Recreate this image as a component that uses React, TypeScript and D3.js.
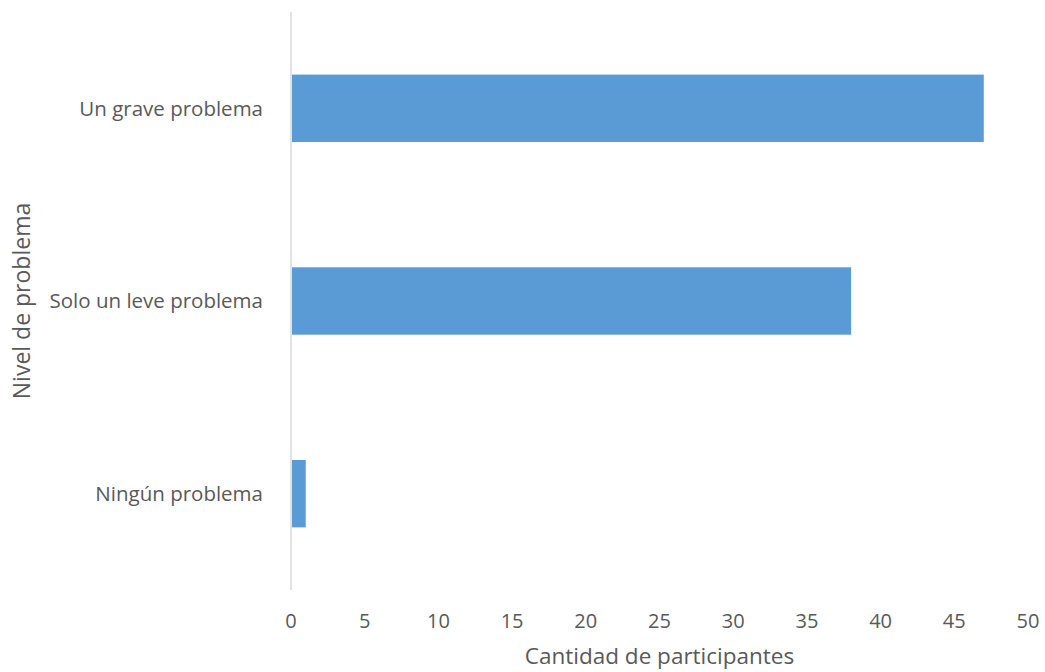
import React from 'react';
import * as d3 from 'd3';

const categories = ['Un grave problema', 'Solo un leve problema', 'Ningún problema'];
const values = [47, 38, 1];
const xTicks = [0, 5, 10, 15, 20, 25, 30, 35, 40, 45, 50];

const width = 1045;
const height = 672;
const margin = { top: 12, right: 17, bottom: 82, left: 291 };

const App = () => {
  const x = d3.scaleLinear().domain([0, 50]).range([margin.left, width - margin.right]);
  const y = d3
    .scaleBand()
    .domain(categories)
    .range([margin.top, height - margin.bottom])
    .paddingInner(0.65)
    .paddingOuter(0.325);

  const font = '"Open Sans", sans-serif';
  const textColor = '#595959';

  return (
    <svg width={width} height={height} style={{ position: 'absolute', left: 0, top: 0, background: '#fff' }}>
      <line
        x1={x(0)}
        x2={x(0)}
        y1={margin.top}
        y2={height - margin.bottom}
        stroke="#d9d9d9"
        strokeWidth={1.5}
      />
      {categories.map((c, i) => (
        <rect
          key={c}
          x={x(0) + 1}
          y={y(c)}
          width={x(values[i]) - x(0) - 1}
          height={y.bandwidth()}
          fill="#5b9bd5"
        />
      ))}
      {categories.map((c) => (
        <text
          key={c}
          x={x(0) - 28}
          y={(y(c) ?? 0) + y.bandwidth() / 2}
          dy="0.35em"
          textAnchor="end"
          fontFamily={font}
          fontSize={20.5}
          fill={textColor}
        >
          {c}
        </text>
      ))}
      {xTicks.map((t) => (
        <text
          key={t}
          x={x(t)}
          y={621}
          dy="0.35em"
          textAnchor="middle"
          fontFamily={font}
          fontSize={20}
          fill={textColor}
        >
          {t}
        </text>
      ))}
      <text
        x={(x(0) + x(50)) / 2}
        y={656}
        dy="0.35em"
        textAnchor="middle"
        fontFamily={font}
        fontSize={22.5}
        fill={textColor}
      >
        Cantidad de participantes
      </text>
      <text
        transform={`translate(22, ${(margin.top + height - margin.bottom) / 2}) rotate(-90)`}
        dy="0.35em"
        textAnchor="middle"
        fontFamily={font}
        fontSize={23}
        fill={textColor}
      >
        Nivel de problema
      </text>
    </svg>
  );
};

export default App;
